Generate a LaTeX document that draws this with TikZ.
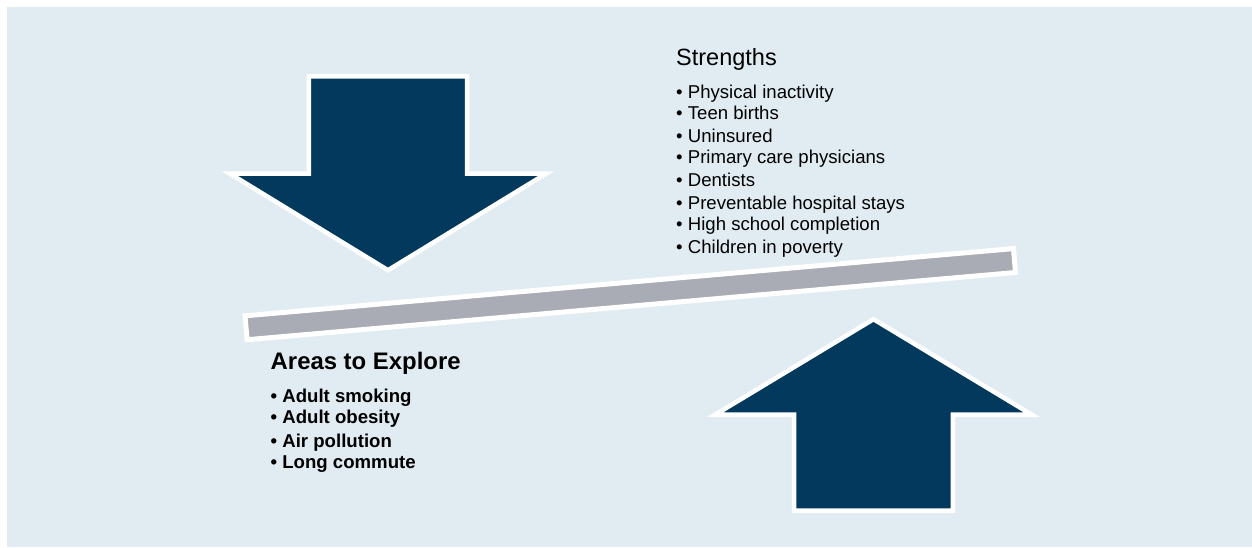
\documentclass[tikz,border=0pt]{standalone}
\usepackage{fontspec}
\setmainfont{Liberation Sans}
\definecolor{bgblue}{HTML}{E1ECF2}
\definecolor{navy}{HTML}{03395C}
\definecolor{bargray}{HTML}{A9ACB4}
\begin{document}
\begin{tikzpicture}[x=1pt,y=-1pt,
  bigarrow/.style={fill=navy,draw=white,line width=4.5pt,line join=miter},
  barbox/.style={fill=bargray,draw=white,line width=5pt,inner sep=0pt,outer sep=0pt},
  itemtext/.style={anchor=base west,inner sep=0pt,font=\fontsize{18.6}{22}\selectfont},
  bolditem/.style={anchor=base west,inner sep=0pt,font=\fontsize{18.6}{22}\selectfont\bfseries},
  headtext/.style={anchor=base west,inner sep=0pt,font=\fontsize{23.5}{27}\selectfont},
  boldhead/.style={anchor=base west,inner sep=0pt,font=\fontsize{23.9}{28}\selectfont\bfseries}]
\useasboundingbox (0,0) rectangle (1252,547);
\fill[bgblue] (7,7) rectangle (1252,547);
% down arrow
\draw[bigarrow] (308.8,76.3) -- (467.2,76.3) -- (467.2,173.7) -- (546,173.7) -- (388,270.2) -- (230,173.7) -- (308.8,173.7) -- cycle;
% up arrow
\draw[bigarrow] (873.5,319.2) -- (1031.5,414.5) -- (952.8,414.5) -- (952.8,510.5) -- (794.2,510.5) -- (794.2,414.5) -- (715.5,414.5) -- cycle;
% lever bar
\node[barbox,rotate=5,minimum width=771.4pt,minimum height=24pt] (bar) at (630.25,294.15) {};
% strengths
\node[headtext] (strengths) at (676,65) {Strengths};
\node[itemtext] (s1) at (676,98.3) {• Physical inactivity};
\node[itemtext] (s2) at (676,119) {• Teen births};
\node[itemtext] (s3) at (676,142.3) {• Uninsured};
\node[itemtext] (s4) at (676,163.3) {• Primary care physicians};
\node[itemtext] (s5) at (676,186.7) {• Dentists};
\node[itemtext] (s6) at (676,209.3) {• Preventable hospital stays};
\node[itemtext] (s7) at (676,230.7) {• High school completion};
\node[itemtext] (s8) at (676,253.3) {• Children in poverty};
% areas to explore
\node[boldhead] (areas) at (270.5,369.3) {Areas to Explore};
\node[bolditem] (a1) at (270.5,402.3) {• Adult smoking};
\node[bolditem] (a2) at (270.5,423.3) {• Adult obesity};
\node[bolditem] (a3) at (270.5,447.3) {• Air pollution};
\node[bolditem] (a4) at (270.5,468) {• Long commute};
\end{tikzpicture}
\end{document}
